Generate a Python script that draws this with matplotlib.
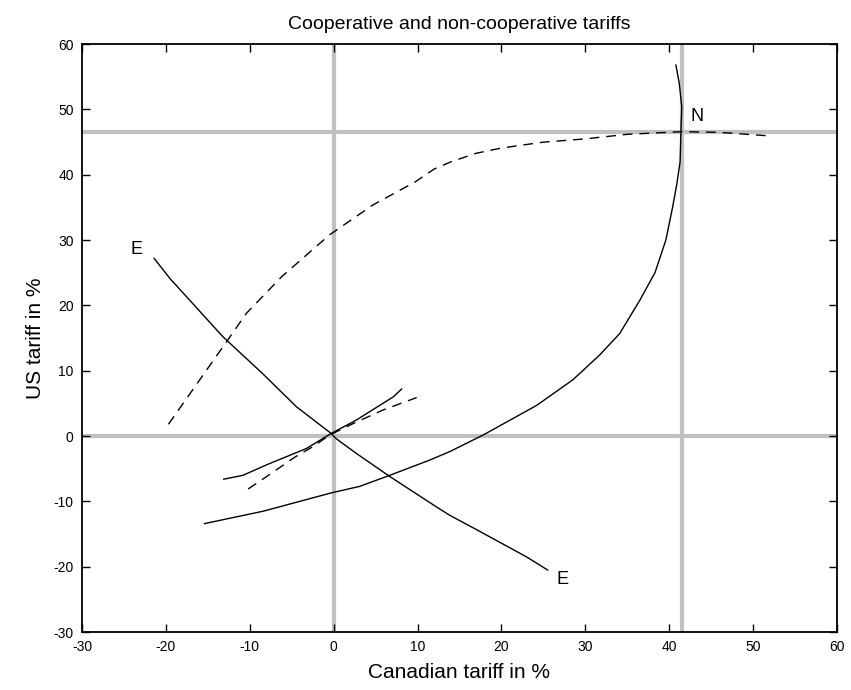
import numpy as np
import matplotlib
matplotlib.use('Agg')
import matplotlib.pyplot as plt

plt.rcParams['font.family'] = ['Liberation Sans', 'DejaVu Sans']
plt.rcParams['axes.unicode_minus'] = False

# Đường phản ứng E (đi xuống)
e_x = [-21.4, -19.5, -13.2, -8.5, -4.45, -0.3, 0.3, 2.7, 6.7, 12.2, 13.8, 17.0, 20.0, 23.0, 25.5]
e_y = [27.2, 24.1, 15.2, 9.6, 4.5, 0.4, -0.4, -2.65, -6.2, -10.8, -12.1, -14.3, -16.4, -18.5, -20.5]

# Đường cong lớn đi lên tới N
n_x = [-15.4, -8.4, -0.3, 3.1, 6.7, 11.4, 13.8, 17.8, 24.2, 28.5, 31.7, 34.1, 36.5, 38.3, 39.6,
       40.4, 40.9, 41.3, 41.4, 41.5, 41.2, 40.8]
n_y = [-13.4, -11.5, -8.7, -7.7, -6.0, -3.7, -2.4, 0.15, 4.7, 8.6, 12.4, 15.7, 20.8, 25.0, 30.0,
       35.0, 38.5, 42.0, 46.7, 50.4, 54.0, 56.8]

# Đường nét đứt lớn
d_x = [-19.7, -12.8, -10.4, -6.2, -0.5, 4.7, 9.7, 12.0, 14.0, 17.0, 20.0, 25.0, 30.0, 35.0, 41.5, 46.0, 51.5]
d_y = [1.8, 14.4, 18.8, 24.4, 30.8, 35.4, 38.9, 40.9, 42.0, 43.3, 44.1, 45.0, 45.5, 46.2, 46.6, 46.5, 46.0]

# Đoạn ngắn nét liền qua gốc
s_x = [-13.1, -10.8, -8.0, -3.25, -0.3, 2.7, 7.1, 8.1]
s_y = [-6.6, -6.0, -4.4, -1.9, 0.4, 2.45, 6.0, 7.2]

# Đoạn ngắn nét đứt qua gốc
t_x = [-10.2, -8.0, -4.6, -2.45, -0.5, 2.3, 5.9, 9.9]
t_y = [-8.1, -6.2, -3.2, -1.6, 0.15, 1.9, 4.0, 5.9]

# Đường tham chiếu màu xám
v_lines = [0, 41.5]
h_lines = [0, 46.5]

ticks = list(range(-30, 61, 10))

fig = plt.figure(figsize=(8.51, 6.90), dpi=100)
ax = fig.add_axes([0.0964, 0.084, 0.8871, 0.852])

for v in v_lines:
    ax.axvline(v, color='#c0c0c0', lw=3, zorder=1)
for h in h_lines:
    ax.axhline(h, color='#c0c0c0', lw=3, zorder=1)

ax.plot(e_x, e_y, color='black', lw=1, zorder=3)
ax.plot(n_x, n_y, color='black', lw=1, zorder=3)
ax.plot(s_x, s_y, color='black', lw=1, zorder=3)
ax.plot(d_x, d_y, color='black', lw=1, dashes=(7, 5), zorder=3)
ax.plot(t_x, t_y, color='black', lw=1, dashes=(7, 5), zorder=3)

ax.text(-23.5, 28.5, 'E', fontsize=13, ha='center', va='center')
ax.text(27.3, -22.0, 'E', fontsize=13, ha='center', va='center')
ax.text(43.3, 48.9, 'N', fontsize=13, ha='center', va='center')

ax.set_xlim(-30, 60)
ax.set_ylim(-30, 60)
ax.set_xticks(ticks)
ax.set_yticks(ticks)
ax.tick_params(direction='in', top=True, right=True, length=6, width=1, labelsize=10, pad=6)
for sp in ax.spines.values():
    sp.set_linewidth(1.3)

ax.set_title('Cooperative and non-cooperative tariffs', fontsize=14, pad=11)
ax.set_xlabel('Canadian tariff in %', fontsize=15, labelpad=6)
ax.set_ylabel('US tariff in %', fontsize=15, labelpad=6)

fig.savefig('out.png', dpi=100)
